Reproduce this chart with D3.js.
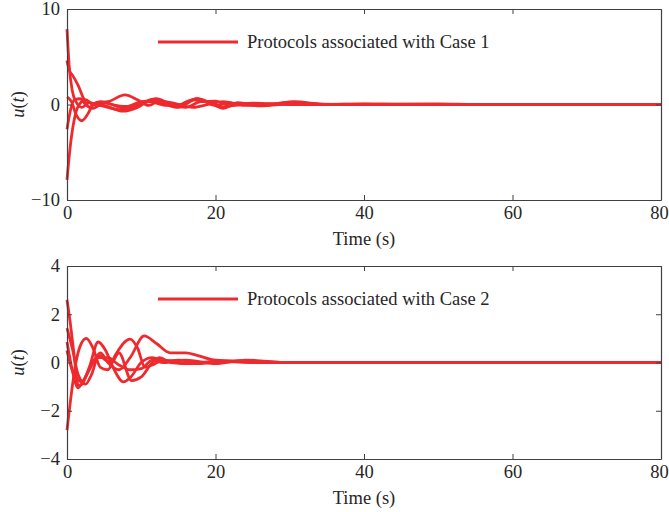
<!DOCTYPE html>
<html>
<head>
<meta charset="utf-8">
<script src="https://cdn.jsdelivr.net/npm/d3@7"></script>
<style>
  body { margin: 0; background: #fff; }
</style>
</head>
<body>
<svg width="669" height="512"></svg>
<script>
    // Case 1 control inputs, (t, u) pairs
    const case1 = [
      [[0,7.9],[0.3,4.0],[0.7,1.5],[1.2,0.3],[2,-0.3],[3,0.2],[4,0.0],[5,-0.2],[7.5,-0.6],[9.5,-0.2],[11.5,0.5],[13,0.1],[15,-0.3],[17.5,0.6],[19.5,0.1],[21,-0.4],[23,0.2],[26,-0.15],[30,0.25],[35,0],[40,0.05],[45,0],[80,0]],
      [[0,4.6],[0.3,3.6],[0.8,3.0],[1.5,2.0],[2.3,0.5],[3,-0.3],[4,0.2],[5.5,0.3],[7.8,1.0],[9.5,0.5],[11,-0.1],[12.5,0.4],[14.5,-0.2],[17,0.5],[19,0.2],[21,-0.3],[23.5,0.1],[27,-0.05],[30.5,0.3],[35,0],[80,0]],
      [[0,-2.6],[0.5,-0.5],[1,0.5],[1.8,0.6],[2.5,0],[3.5,-0.4],[5,0.2],[7.8,-0.4],[10,0.1],[12,0.6],[14,0],[16,-0.3],[18,0.3],[20,0.35],[22,-0.15],[25,0.15],[30,0],[80,0]],
      [[0,-7.9],[0.5,-4],[1,-1.5],[1.5,-0.2],[2.5,0.5],[3.5,0],[5,-0.1],[7.5,-0.7],[9.5,-0.3],[11,0.3],[13.5,-0.1],[15.5,0],[17.5,0.6],[20,-0.1],[22,0.15],[26,-0.1],[31,0.1],[36,0],[80,0]],
      [[0,0.8],[0.6,0.3],[1.2,-1],[2,-1.7],[2.8,-1],[3.5,0],[4.5,0.3],[6,0],[8,-0.2],[10,0.3],[12,0.4],[14,0.2],[17,-0.3],[19,0],[21,0.3],[24,-0.1],[28,0.1],[33,0],[50,0.05],[55,0],[80,0]]
    ];

    // Case 2 control inputs
    const case2 = [
      [[0,2.6],[0.5,1.5],[1,0.2],[1.5,-0.95],[2,-0.9],[3,-0.2],[4.2,0.85],[5.2,0.5],[6.2,-0.2],[7.6,-0.8],[8.6,-0.6],[10,0],[11.5,0.2],[13,0.05],[15,0.1],[18,0],[22,0.05],[26,0],[80,0]],
      [[0,-2.8],[0.5,-1.5],[1.2,0],[1.8,0.7],[2.6,1.0],[3.5,0.6],[4.5,-0.2],[5.5,-0.3],[6.5,0.3],[8.5,0.97],[9.5,0.6],[10.5,-0.2],[11.5,-0.1],[13,0.1],[16,-0.05],[20,0.05],[25,0],[80,0]],
      [[0,1.42],[0.7,0.6],[1.5,-0.5],[2.5,-0.9],[3.3,-0.5],[4.3,0.3],[5.2,0.1],[6,0],[7,0.4],[8.7,-0.75],[10,-0.6],[11.5,0],[12.5,0.2],[14,0],[17,-0.05],[22,0.05],[27,0],[80,0]],
      [[0,0.85],[0.7,-0.3],[1.5,-1.05],[2.3,-0.7],[3.5,0],[4.5,0.4],[5.5,0],[7,-0.3],[8.5,0.2],[10.4,1.1],[12,0.8],[13.9,0.4],[16,0.4],[17.5,0.3],[20,0.1],[25,0.05],[30,0],[80,0]],
      [[0,0.5],[0.8,-0.4],[2,-0.8],[3,-0.3],[4,0.2],[5.5,0.2],[7,-0.1],[8.5,-0.3],[10,-0.25],[11.5,0.1],[13,0],[16,0.1],[20,-0.05],[24,0.1],[30,0],[80,0]]
    ];

    const xTicks = [0, 20, 40, 60, 80];
    const yTicks1 = [-10, 0, 10];
    const yTicks2 = [-4, -2, 0, 2, 4];
    const legendLabels = ["Protocols associated with Case 1", "Protocols associated with Case 2"];

    const svg = d3.select("svg");
    const red = "#ee2a2e";
    const serif = "Liberation Serif";
    const fs = 18.5;
    const ink = "#262626";

    const x = d3.scaleLinear().domain([0, 80]).range([67, 661]);

    const panels = [
      {data: case1, ticks: yTicks1, domain: [-10, 10], top: 9, bottom: 200, label: legendLabels[0]},
      {data: case2, ticks: yTicks2, domain: [-4, 4], top: 266, bottom: 459, label: legendLabels[1]}
    ];

    const fmt = d => d < 0 ? "\u2212" + Math.abs(d) : d;

    panels.forEach(p => {
      const y = d3.scaleLinear().domain(p.domain).range([p.bottom, p.top]);

      const line = d3.line()
        .x(d => x(d[0]))
        .y(d => y(d[1]))
        .curve(d3.curveMonotoneX);

      svg.append("g")
        .selectAll("path")
        .data(p.data)
        .enter().append("path")
        .attr("fill", "none")
        .attr("stroke", red)
        .attr("stroke-width", 2.8)
        .attr("stroke-linejoin", "round")
        .attr("d", line);

      // box with inward ticks
      const xAxis = svg.append("g")
        .attr("transform", `translate(0,${p.bottom})`)
        .call(d3.axisBottom(x).tickValues(xTicks).tickSizeInner(-5).tickSizeOuter(0).tickPadding(6));
      // keep the last label inside the page
      xAxis.selectAll(".tick text").filter(d => d === 80).attr("dx", -2);

      const axes = [
        xAxis,
        svg.append("g")
          .attr("transform", `translate(0,${p.top})`)
          .call(d3.axisTop(x).tickValues(xTicks).tickSizeInner(-5).tickSizeOuter(0).tickFormat("")),
        svg.append("g")
          .attr("transform", "translate(67,0)")
          .call(d3.axisLeft(y).tickValues(p.ticks).tickSizeInner(-5).tickSizeOuter(0).tickPadding(7).tickFormat(fmt)),
        svg.append("g")
          .attr("transform", "translate(661,0)")
          .call(d3.axisRight(y).tickValues(p.ticks).tickSizeInner(-5).tickSizeOuter(0).tickFormat(""))
      ];
      axes.forEach(a => {
        a.attr("font-family", serif).attr("font-size", fs);
        a.selectAll("text").attr("fill", ink);
        a.selectAll("line").attr("stroke", "#404040");
        a.select(".domain").attr("stroke", "#404040").attr("stroke-width", 1.2);
      });

      // x label
      svg.append("text")
        .attr("x", 364)
        .attr("y", p.bottom + 45)
        .attr("text-anchor", "middle")
        .attr("font-family", serif)
        .attr("font-size", fs)
        .attr("fill", ink)
        .text("Time (s)");

      // y label
      const yl = svg.append("text")
        .attr("transform", `translate(24,${(p.top + p.bottom) / 2}) rotate(-90)`)
        .attr("text-anchor", "middle")
        .attr("font-family", serif)
        .attr("font-size", fs)
        .attr("fill", ink);
      yl.append("tspan").attr("font-style", "italic").text("u");
      yl.append("tspan").text("(");
      yl.append("tspan").attr("font-style", "italic").text("t");
      yl.append("tspan").text(")");

      // legend
      const ly = p.top + 33;
      svg.append("line")
        .attr("x1", 158).attr("x2", 238)
        .attr("y1", ly).attr("y2", ly)
        .attr("stroke", red)
        .attr("stroke-width", 2.8);
      svg.append("text")
        .attr("x", 247)
        .attr("y", ly + 6)
        .attr("font-family", serif)
        .attr("font-size", fs)
        .attr("fill", ink)
        .text(p.label);
    });
</script>
</body>
</html>
